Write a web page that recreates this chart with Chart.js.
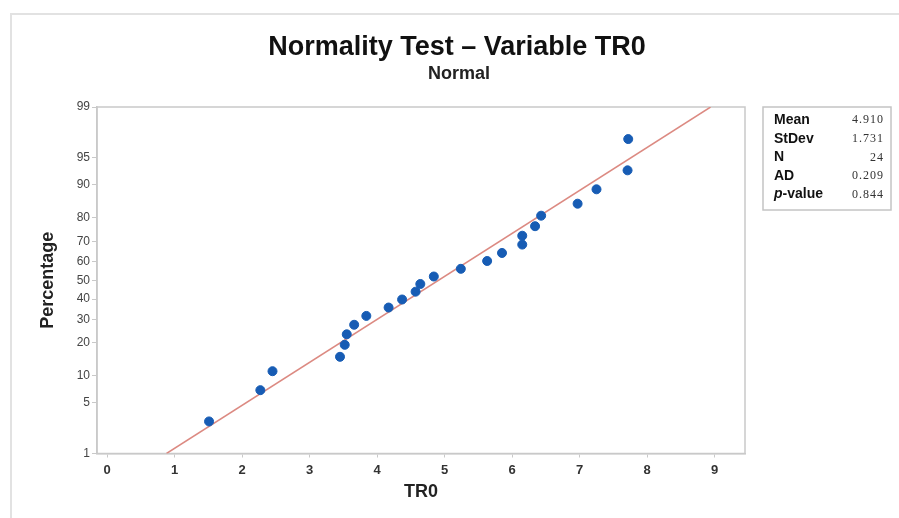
<!DOCTYPE html>
<html>
<head>
<meta charset="utf-8">
<script src="https://cdn.jsdelivr.net/npm/chart.js@4.4.1/dist/chart.umd.min.js"></script>
<style>
  html, body { margin: 0; padding: 0; background: #fff; }
  #wrap { width: 899px; height: 518px; position: relative; }
</style>
</head>
<body>
<div id="wrap"><canvas id="chart" width="899" height="518"></canvas></div>
<script>
// valores
const tr0 = [1.51, 2.27, 2.45, 3.45, 3.52, 3.55, 3.66, 3.84, 4.17, 4.37, 4.57, 4.64,
             4.84, 5.24, 5.63, 5.85, 6.15, 6.15, 6.34, 6.43, 6.97, 7.25, 7.71, 7.72];
const percent = [2.9, 7.0, 11.1, 15.2, 19.3, 23.4, 27.5, 31.6, 35.7, 39.8, 43.9, 48.0,
                 52.0, 56.1, 60.2, 64.3, 68.4, 72.5, 76.6, 80.7, 84.8, 88.9, 93.0, 97.1];
const fitX = [0.88, 8.94];
const fitPercent = [1, 99];
const yTicks = [1, 5, 10, 20, 30, 40, 50, 60, 70, 80, 90, 95, 99];
const xTicks = [0, 1, 2, 3, 4, 5, 6, 7, 8, 9];
const statLabels = ['Mean', 'StDev', 'N', 'AD', 'p-value'];
const statValues = ['4.910', '1.731', '24', '0.209', '0.844'];

const FONT = '"Liberation Sans", Arial, sans-serif';

// escala de probabilidade normal (inversa da normal)
function probit(p) {
  const a = [-3.969683028665376e+01, 2.209460984245205e+02, -2.759285104469687e+02, 1.383577518672690e+02, -3.066479806614716e+01, 2.506628277459239e+00];
  const b = [-5.447609879822406e+01, 1.615858368580409e+02, -1.556989798598866e+02, 6.680131188771972e+01, -1.328068155288572e+01];
  const c = [-7.784894002430293e-03, -3.223964580411365e-01, -2.400758296769889e+00, -2.549732539343734e+00, 4.374664141464968e+00, 2.938163982698783e+00];
  const d = [7.784695709041462e-03, 3.224671290700398e-01, 2.445134137142996e+00, 3.754408661907416e+00];
  const pl = 0.02425;
  let q, r;
  if (p < pl) {
    q = Math.sqrt(-2 * Math.log(p));
    return (((((c[0]*q+c[1])*q+c[2])*q+c[3])*q+c[4])*q+c[5]) / ((((d[0]*q+d[1])*q+d[2])*q+d[3])*q+1);
  }
  if (p > 1 - pl) {
    q = Math.sqrt(-2 * Math.log(1 - p));
    return -(((((c[0]*q+c[1])*q+c[2])*q+c[3])*q+c[4])*q+c[5]) / ((((d[0]*q+d[1])*q+d[2])*q+d[3])*q+1);
  }
  q = p - 0.5; r = q * q;
  return (((((a[0]*r+a[1])*r+a[2])*r+a[3])*r+a[4])*r+a[5])*q / (((((b[0]*r+b[1])*r+b[2])*r+b[3])*r+b[4])*r+1);
}

const points = tr0.map((x, i) => ({ x: x, y: probit(percent[i] / 100) }));
const fitLine = fitX.map((x, i) => ({ x: x, y: probit(fitPercent[i] / 100) }));

// título, moldura e caixa de estatísticas
const decor = {
  id: 'decor',
  beforeDatasetsDraw(chart) {
    const { ctx, chartArea: a } = chart;
    ctx.save();
    ctx.strokeStyle = '#c9c9c9';
    ctx.lineWidth = 1.5;
    ctx.strokeRect(a.left, a.top, a.right - a.left, a.bottom - a.top);
    ctx.restore();
  },
  afterDraw(chart) {
    const { ctx } = chart;
    ctx.save();
    // moldura externa
    ctx.strokeStyle = '#e2e2e2';
    ctx.lineWidth = 2;
    ctx.beginPath();
    ctx.moveTo(11, 518);
    ctx.lineTo(11, 14);
    ctx.lineTo(899, 14);
    ctx.stroke();

    ctx.fillStyle = '#111';
    ctx.textAlign = 'center';
    ctx.textBaseline = 'middle';
    ctx.font = 'bold 27px ' + FONT;
    ctx.fillText('Normality Test \u2013 Variable TR0', 457, 48);
    ctx.fillStyle = '#222';
    ctx.font = 'bold 18px ' + FONT;
    ctx.fillText('Normal', 459, 74);

    // caixa de estatísticas
    ctx.strokeStyle = '#c4c4c4';
    ctx.lineWidth = 1.5;
    ctx.strokeRect(763, 107, 128, 103);
    const rowY = [120, 139, 157.5, 176, 194.5];
    statLabels.forEach((lab, i) => {
      ctx.textAlign = 'left';
      ctx.fillStyle = '#111';
      if (lab === 'p-value') {
        ctx.font = 'italic bold 14px ' + FONT;
        ctx.fillText('p', 774, rowY[i]);
        const w = ctx.measureText('p').width;
        ctx.font = 'bold 14px ' + FONT;
        ctx.fillText('-value', 774 + w, rowY[i]);
      } else {
        ctx.font = 'bold 14px ' + FONT;
        ctx.fillText(lab, 774, rowY[i]);
      }
      ctx.textAlign = 'right';
      ctx.fillStyle = '#333';
      ctx.font = '12px "Liberation Serif", serif';
      ctx.letterSpacing = '1px';
      ctx.fillText(statValues[i], 884, rowY[i]);
      ctx.letterSpacing = '0px';
    });
    ctx.restore();
  }
};

new Chart(document.getElementById('chart'), {
  type: 'scatter',
  data: {
    datasets: [
      {
        label: 'Ajuste',
        type: 'line',
        data: fitLine,
        borderColor: '#dc8a82',
        borderWidth: 1.5,
        pointRadius: 0,
        fill: false,
        order: 2
      },
      {
        label: 'TR0',
        data: points,
        backgroundColor: '#175cb4',
        borderColor: '#175cb4',
        pointRadius: 4.5,
        pointHoverRadius: 4.5,
        order: 1
      }
    ]
  },
  options: {
    responsive: false,
    animation: false,
    layout: { padding: { top: 107, right: 154, left: 37, bottom: 14.5 } },
    plugins: {
      legend: { display: false },
      tooltip: { enabled: false }
    },
    scales: {
      x: {
        type: 'linear',
        min: -0.15,
        max: 9.45,
        afterFit: s => { s.height = 50; },
        afterBuildTicks: s => { s.ticks = xTicks.map(v => ({ value: v })); },
        grid: { drawOnChartArea: false, color: '#c9c9c9', tickLength: 4 },
        border: { color: '#c9c9c9', width: 1.5 },
        ticks: { color: '#333', padding: 5, font: { family: FONT, size: 13, weight: 'bold' } },
        title: {
          display: true, text: 'TR0', color: '#222',
          padding: { top: 0, bottom: 1 },
          font: { family: FONT, size: 18, weight: 'bold' }
        }
      },
      y: {
        type: 'linear',
        min: probit(0.01),
        max: probit(0.99),
        afterFit: s => { s.width = 60; },
        afterBuildTicks: s => { s.ticks = yTicks.map(p => ({ value: probit(p / 100) })); },
        grid: { drawOnChartArea: false, color: '#c9c9c9', tickLength: 5 },
        border: { color: '#c9c9c9', width: 1.5 },
        ticks: {
          color: '#444', padding: 2,
          font: { family: FONT, size: 12 },
          callback: (v, i) => yTicks[i]
        },
        title: {
          display: true, text: 'Percentage', color: '#222',
          padding: { top: 0, bottom: 0 },
          font: { family: FONT, size: 18, weight: 'bold' }
        }
      }
    }
  },
  plugins: [decor]
});
</script>
</body>
</html>
